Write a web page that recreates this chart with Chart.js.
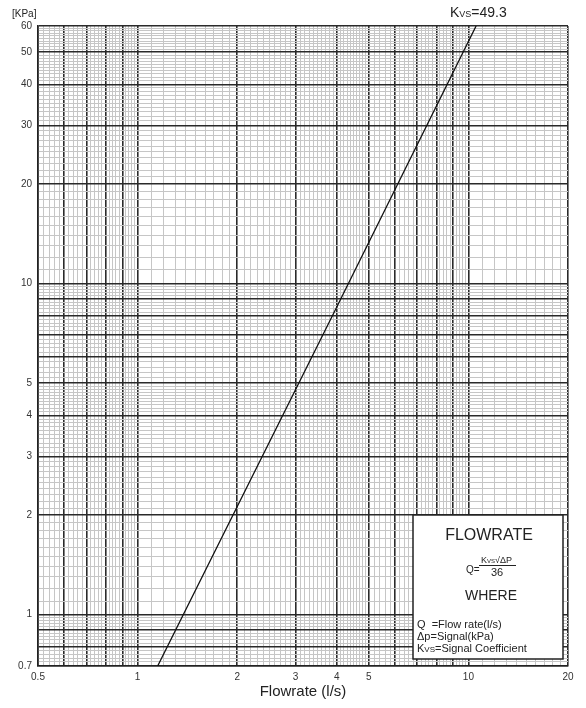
<!DOCTYPE html>
<html>
<head>
<meta charset="utf-8">
<script src="https://cdn.jsdelivr.net/npm/chart.js@4"></script>
<style>
  html, body { margin: 0; padding: 0; background: #fff; }
  #wrap { width: 586px; height: 708px; position: relative; }
</style>
</head>
<body>
<div id="wrap"><canvas id="flow_canvas"></canvas></div>
<script>
// Kvs = 49.3 curve (Flowrate l/s, pressure kPa)
const flowValues = [1.15, 4, 10.55];
const pressureValues = [0.7, 8.5, 60];

const xLabels = [0.5, 1, 2, 3, 4, 5, 10, 20];
const yLabels = [0.7, 1, 2, 3, 4, 5, 10, 20, 30, 40, 50, 60];
const xMajor = [0.5, 0.6, 0.7, 0.8, 0.9, 1, 2, 3, 4, 5, 6, 7, 8, 9, 10, 20];
const yMajor = [0.7, 0.8, 0.9, 1, 2, 3, 4, 5, 6, 7, 8, 9, 10, 20, 30, 40, 50, 60];

function r(v) { return Math.round(v * 1000) / 1000; }

// minor grid: fine steps per range
function gridValues(ranges) {
    const out = [];
    ranges.forEach(([from, to, step]) => {
        for (let v = from; v <= to + 1e-9; v += step) out.push(r(v));
    });
    return [...new Set(out)].sort((a, b) => a - b);
}
const xGrid = gridValues([[0.5, 1, 0.02], [1, 5, 0.1], [5, 10, 0.2], [10, 20, 1]]);
const yGrid = gridValues([[0.7, 1, 0.02], [1, 5, 0.1], [5, 10, 0.2], [10, 60, 1]]);

const isMajor = (list, v) => list.some(m => Math.abs(m - v) < 1e-6);

const font = 'Liberation Sans, Arial, sans-serif';

// "K" + small "VS", returns x after the text
function drawKvs(c, x, y, big, small) {
    c.font = big + 'px ' + font;
    c.fillText('K', x, y);
    x += c.measureText('K').width;
    c.font = small + 'px ' + font;
    c.fillText('VS', x, y);
    return x + c.measureText('VS').width;
}

const labelsPlugin = {
    id: 'labels',
    afterDraw(chart) {
        const c = chart.ctx;
        c.save();
        c.fillStyle = '#222';
        c.textBaseline = 'alphabetic';
        c.textAlign = 'left';

        // unit on top of the y axis
        c.font = '10px ' + font;
        c.fillText('[KPa]', 12, 17);

        // curve name
        let x = drawKvs(c, 450, 17, 14, 9);
        c.font = '14px ' + font;
        c.fillText('=49.3', x, 17);

        // box with formula
        const bx = 413, by = 515, bw = 150, bh = 144;
        c.fillStyle = '#fff';
        c.fillRect(bx, by, bw, bh);
        c.strokeStyle = '#222';
        c.lineWidth = 1.5;
        c.strokeRect(bx, by, bw, bh);

        c.fillStyle = '#222';
        c.textAlign = 'center';
        c.font = '16px ' + font;
        c.fillText('FLOWRATE', 489, 540);

        c.textAlign = 'left';
        c.font = '10px ' + font;
        c.fillText('Q=', 466, 573);
        x = drawKvs(c, 481, 563, 9, 6);
        c.font = '9px ' + font;
        c.fillText('√ΔP', x, 563);
        c.beginPath();
        c.moveTo(479, 565.5);
        c.lineTo(516, 565.5);
        c.lineWidth = 1;
        c.stroke();
        c.font = '11px ' + font;
        c.textAlign = 'center';
        c.fillText('36', 497, 576);

        c.font = '14px ' + font;
        c.fillText('WHERE', 491, 600);

        c.textAlign = 'left';
        c.font = '11px ' + font;
        c.fillText('Q  =Flow rate(l/s)', 417, 628);
        c.fillText('Δp=Signal(kPa)', 417, 640);
        x = drawKvs(c, 417, 652, 11, 8);
        c.font = '11px ' + font;
        c.fillText('=Signal Coefficient', x, 652);
        c.restore();
    }
};

const ctx = document.getElementById('flow_canvas');

new Chart(ctx, {
    type: 'scatter',
    data: {
        datasets: [{
            label: 'Kvs=49.3',
            data: flowValues.map((q, i) => ({ x: q, y: pressureValues[i] })),
            showLine: true,
            borderColor: '#111',
            borderWidth: 1.3,
            pointRadius: 0,
            tension: 0
        }]
    },
    options: {
        responsive: true,
        maintainAspectRatio: false,
        animation: false,
        layout: {
            padding: { top: 26, right: 18, left: 0, bottom: 7 }
        },
        plugins: {
            legend: { display: false },
            tooltip: { enabled: false }
        },
        scales: {
            x: {
                type: 'logarithmic',
                min: 0.5,
                max: 20,
                afterBuildTicks(scale) {
                    scale.ticks = xGrid.map(v => ({ value: v }));
                },
                afterFit(scale) { scale.height = 35; },
                grid: {
                    color: c => isMajor(xMajor, c.tick.value) ? '#2a2a2a' : '#c6c6c6',
                    lineWidth: c => isMajor(xMajor, c.tick.value) ? 1.6 : 1,
                    drawTicks: false
                },
                border: { display: true, color: '#222', width: 1.6 },
                ticks: {
                    autoSkip: false,
                    maxRotation: 0,
                    padding: 5,
                    color: '#333',
                    font: { family: font, size: 10 },
                    callback: v => isMajor(xLabels, v) ? String(r(v)) : ''
                },
                title: {
                    display: true,
                    text: 'Flowrate (l/s)',
                    color: '#222',
                    font: { family: font, size: 15 },
                    padding: { top: 0, bottom: 0 }
                }
            },
            y: {
                type: 'logarithmic',
                min: 0.7,
                max: 60,
                afterBuildTicks(scale) {
                    scale.ticks = yGrid.map(v => ({ value: v }));
                },
                afterFit(scale) { scale.width = 38; },
                grid: {
                    color: c => isMajor(yMajor, c.tick.value) ? '#2a2a2a' : '#c6c6c6',
                    lineWidth: c => isMajor(yMajor, c.tick.value) ? 1.6 : 1,
                    drawTicks: false
                },
                border: { display: true, color: '#222', width: 1.6 },
                ticks: {
                    autoSkip: false,
                    padding: 6,
                    color: '#333',
                    font: { family: font, size: 10 },
                    callback: v => isMajor(yLabels, v) ? String(r(v)) : ''
                }
            }
        }
    },
    plugins: [labelsPlugin]
});
</script>
</body>
</html>
